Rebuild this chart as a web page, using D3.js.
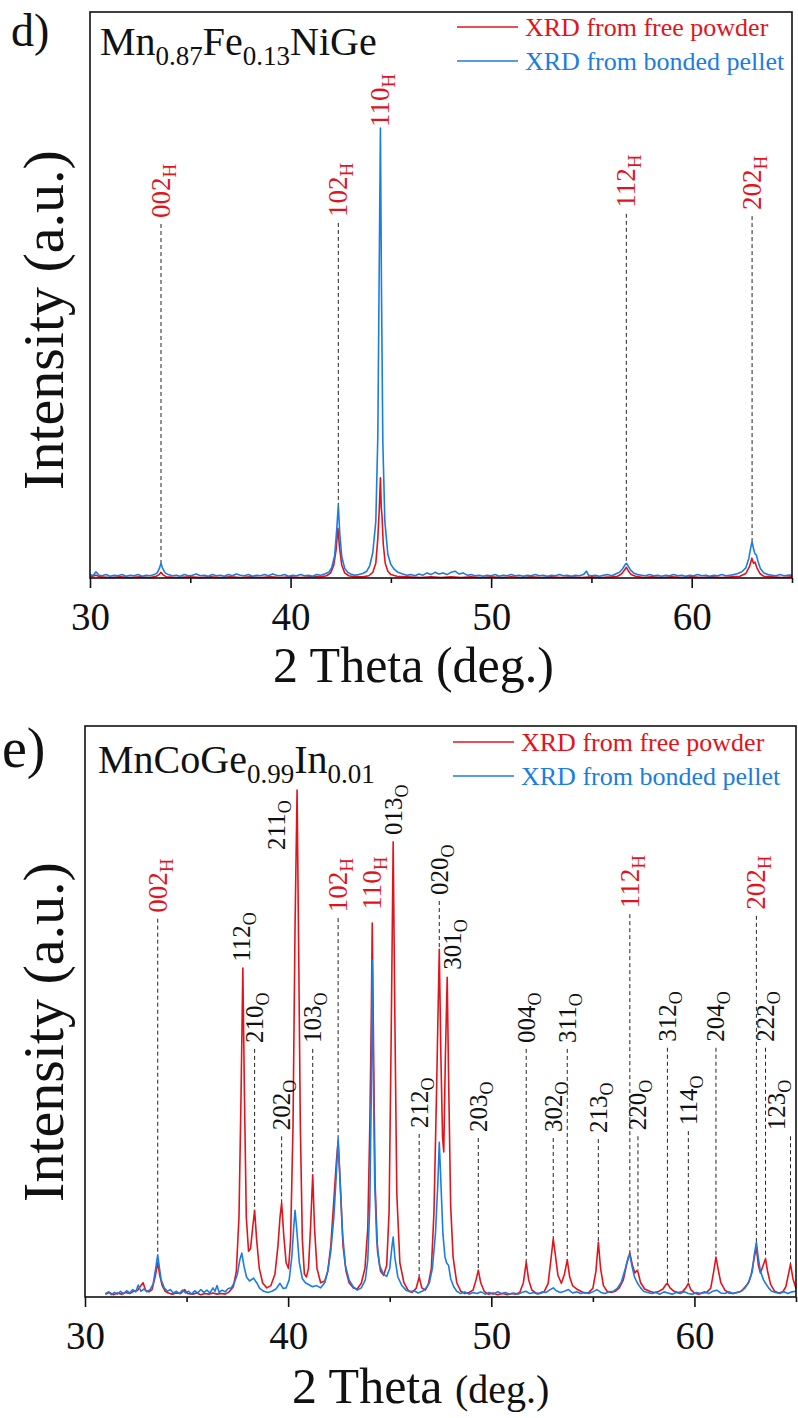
<!DOCTYPE html>
<html>
<head>
<meta charset="utf-8">
<script src="https://cdn.jsdelivr.net/npm/d3@7"></script>
<style>
  body { margin: 0; background: #fff; }
  svg text { font-family: "Liberation Serif", "Times New Roman", serif; }
</style>
</head>
<body>
<svg width="798" height="1418"></svg>
<script>
/* ---------- data (2theta in deg, intensity in % of axis height) ---------- */
const xMajor = [30, 40, 50, 60];
const xMinor = [35, 45, 55, 65];
const seriesNames = ['XRD from free powder', 'XRD from bonded pellet'];

// panel d) Mn0.87Fe0.13NiGe
const dFormula = [['Mn', 0], ['0.87', 1], ['Fe', 0], ['0.13', 1], ['NiGe', 0]];
const dPowder = [
  [30.0,0.2],[30.3,0.5],[30.5,0.2],[31,0.1],[31.5,0.2],[32,0.1],[32.5,0.2],[33.0,0.1],[33.3,0.3],[33.45,0.6],
  [33.54,1.0],[33.63,0.6],[33.8,0.2],[34.3,0.1],[35,0.2],[35.5,0.1],[36,0.2],[36.5,0.1],[37,0.2],[37.5,0.1],
  [38,0.2],[38.5,0.1],[39,0.2],[39.5,0.1],[40,0.2],[40.5,0.1],[41,0.2],[41.5,0.2],[41.8,0.4],[42.0,0.9],
  [42.15,2.2],[42.27,5.0],[42.36,8.8],[42.44,5.5],[42.55,2.3],[42.7,0.9],[42.9,0.4],[43.2,0.2],[43.6,0.2],
  [43.9,0.4],[44.1,1.0],[44.25,2.6],[44.35,7],[44.42,12],[44.48,17.7],[44.52,12.5],[44.56,11],[44.62,6],
  [44.72,2.6],[44.85,1.2],[45.0,0.6],[45.3,0.3],[45.8,0.2],[46.5,0.1],[47,0.2],[47.5,0.1],[48,0.2],[48.5,0.1],
  [49,0.2],[49.5,0.1],[50,0.2],[50.5,0.1],[51,0.2],[51.5,0.1],[52,0.2],[52.5,0.1],[53,0.2],[53.5,0.1],
  [54,0.2],[54.5,0.1],[55,0.2],[55.5,0.1],[56,0.2],[56.3,0.3],[56.5,0.7],[56.65,1.4],[56.74,1.9],[56.83,1.3],
  [56.98,0.6],[57.2,0.3],[57.6,0.1],[58,0.2],[58.5,0.1],[59,0.2],[59.5,0.1],[60,0.2],[60.5,0.1],[61,0.2],
  [61.5,0.1],[62,0.2],[62.4,0.3],[62.7,0.8],[62.88,2.0],[63.0,3.5],[63.08,2.6],[63.16,2.8],[63.25,1.8],
  [63.4,0.8],[63.6,0.3],[64,0.2],[64.5,0.1],[65,0.2]
];
const dPellet = [
  [30.0,0.6],[30.15,0.4],[30.3,1.1],[30.45,0.5],[30.6,0.4],[30.8,0.6],[31.0,0.3],[31.2,0.5],[31.4,0.4],[31.6,0.6],
  [31.8,0.3],[32.0,0.5],[32.2,0.4],[32.4,0.6],[32.6,0.3],[32.8,0.5],[33.0,0.4],[33.2,0.6],[33.35,0.9],[33.45,1.6],
  [33.54,2.6],[33.62,1.7],[33.75,0.9],[33.9,0.6],[34.1,0.4],[34.3,0.5],[34.5,0.3],[34.7,0.6],[34.9,0.4],[35.1,0.5],
  [35.3,0.7],[35.5,0.4],[35.7,0.5],[35.9,0.3],[36.1,0.6],[36.3,0.4],[36.5,0.5],[36.7,0.3],[36.9,0.6],[37.1,0.4],
  [37.3,0.7],[37.5,0.5],[37.7,0.4],[37.9,0.6],[38.1,0.3],[38.3,0.5],[38.5,0.4],[38.7,0.6],[38.9,0.4],[39.1,0.7],
  [39.3,0.5],[39.5,0.4],[39.7,0.6],[39.9,0.3],[40.1,0.5],[40.3,0.4],[40.5,0.6],[40.7,0.4],[40.9,0.5],[41.1,0.3],
  [41.3,0.6],[41.5,0.5],[41.7,0.7],[41.9,1.0],[42.05,1.8],[42.2,4.0],[42.3,8.5],[42.38,12.9],[42.45,8.0],
  [42.55,3.8],[42.7,1.7],[42.85,1.0],[43.0,0.7],[43.2,0.5],[43.4,0.6],[43.6,0.8],[43.8,1.2],[43.95,2.2],
  [44.1,4.5],[44.25,10],[44.35,25],[44.42,55],[44.48,79.5],[44.53,52],[44.6,24],[44.7,10],[44.85,4.2],
  [45.0,2.4],[45.15,1.6],[45.35,1.0],[45.6,0.7],[45.8,0.5],[46.0,0.6],[46.2,0.4],[46.4,0.7],[46.6,0.5],
  [46.8,0.9],[47.0,0.6],[47.2,1.0],[47.4,0.7],[47.6,0.9],[47.8,0.6],[48.0,1.0],[48.2,1.2],[48.4,0.7],[48.6,0.9],
  [48.8,0.5],[49.0,0.6],[49.2,0.4],[49.4,0.5],[49.6,0.3],[49.8,0.5],[50.0,0.4],[50.2,0.6],[50.4,0.3],[50.6,0.5],
  [50.8,0.4],[51.0,0.6],[51.2,0.4],[51.4,0.5],[51.6,0.3],[51.8,0.5],[52.0,0.4],[52.2,0.6],[52.4,0.4],[52.6,0.5],
  [52.8,0.3],[53.0,0.5],[53.2,0.4],[53.4,0.6],[53.6,0.4],[53.8,0.5],[54.0,0.3],[54.2,0.5],[54.4,0.4],[54.6,0.6],
  [54.75,1.2],[54.85,0.5],[55.0,0.4],[55.2,0.5],[55.4,0.3],[55.6,0.5],[55.8,0.6],[56.0,0.4],[56.2,0.7],[56.4,1.0],
  [56.55,1.6],[56.65,2.2],[56.74,2.6],[56.82,2.2],[56.95,1.4],[57.1,0.9],[57.3,0.6],[57.5,0.5],[57.7,0.4],
  [57.9,0.6],[58.1,0.4],[58.3,0.5],[58.5,0.3],[58.7,0.5],[58.9,0.4],[59.1,0.6],[59.3,0.4],[59.5,0.5],[59.7,0.3],
  [59.9,0.5],[60.1,0.4],[60.3,0.6],[60.5,0.4],[60.7,0.5],[60.9,0.3],[61.1,0.5],[61.3,0.4],[61.5,0.6],[61.7,0.4],
  [61.9,0.5],[62.1,0.6],[62.3,0.8],[62.5,1.1],[62.7,1.8],[62.85,3.5],[62.95,5.5],[63.01,6.4],[63.08,5.2],
  [63.15,4.3],[63.22,4.1],[63.3,3.0],[63.42,1.7],[63.6,0.9],[63.8,0.6],[64.0,0.5],[64.2,0.4],[64.4,0.6],
  [64.6,0.4],[64.8,0.5],[65.0,0.5]
];
const dPeaks = [
  { hkl: '002', ph: 'H', pos: 33.54, at: 63.6, line: true },
  { hkl: '102', ph: 'H', pos: 42.38, at: 63.8, line: true },
  { hkl: '110', ph: 'H', pos: 44.48, at: 79.7, line: false },
  { hkl: '112', ph: 'H', pos: 56.74, at: 65.4, line: true },
  { hkl: '202', ph: 'H', pos: 63.01, at: 65.0, line: true }
];

// panel e) MnCoGe0.99In0.01
const eFormula = [['MnCoGe', 0], ['0.99', 1], ['In', 0], ['0.01', 1]];
const ePowder = [
  [31.0,0.5],[31.2,0.8],[31.4,0.4],[31.6,0.7],[31.8,0.5],[32.0,0.8],[32.2,0.6],[32.4,1.0],[32.6,1.2],[32.75,2.0],
  [32.86,2.5],[32.98,1.2],[33.15,0.9],[33.3,1.3],[33.45,3.5],[33.58,6.0],[33.68,3.8],[33.8,2.0],[33.95,1.0],
  [34.1,0.7],[34.3,0.5],[34.5,0.7],[34.7,0.6],[34.9,1.3],[35.05,0.6],[35.3,0.5],[35.5,0.7],[35.7,0.4],[35.9,0.6],
  [36.1,0.5],[36.3,0.7],[36.5,0.5],[36.7,0.6],[36.9,0.5],[37.1,0.9],[37.3,1.8],[37.45,4.5],[37.58,14],[37.68,35],
  [37.77,57.6],[37.85,35],[37.94,14],[38.05,8],[38.15,8.5],[38.25,12],[38.35,15.2],[38.45,10],[38.58,5],
  [38.75,2.4],[38.95,1.6],[39.15,2.0],[39.35,4.0],[39.5,9],[39.6,14],[39.68,16.5],[39.78,11],[39.9,6],[40.02,5],
  [40.12,10],[40.24,30],[40.34,65],[40.44,88.8],[40.52,60],[40.6,30],[40.7,10],[40.8,4],[40.9,3.5],[41.0,5],
  [41.1,12],[41.21,21.4],[41.3,12],[41.42,5],[41.6,2.5],[41.8,2.8],[41.95,4.5],[42.1,9],[42.25,17],[42.38,24],
  [42.46,27.3],[42.56,20],[42.7,9],[42.85,4.5],[43.0,2.5],[43.2,1.6],[43.4,1.4],[43.6,2.4],[43.78,5],[43.92,12],
  [44.02,30],[44.09,48],[44.14,65.5],[44.2,45],[44.28,20],[44.4,8],[44.55,4.5],[44.7,3.8],[44.85,5.5],[44.97,15],
  [45.07,45],[45.17,79.7],[45.25,50],[45.35,18],[45.5,6],[45.7,2.5],[45.9,1.2],[46.1,0.8],[46.3,1.5],[46.45,3.5],
  [46.58,1.6],[46.75,1.2],[46.9,2.2],[47.05,5],[47.18,15],[47.3,35],[47.38,50],[47.44,60.9],[47.52,42],[47.6,28],
  [47.66,25.4],[47.74,42],[47.83,56.0],[47.9,38],[48.0,16],[48.12,7],[48.3,2.5],[48.5,1.0],[48.7,0.6],[48.9,0.8],
  [49.1,1.2],[49.25,3.0],[49.36,4.7],[49.48,2.5],[49.65,1.0],[49.85,0.5],[50.1,0.7],[50.3,0.4],[50.55,0.6],
  [50.8,0.4],[51.0,0.6],[51.2,0.5],[51.4,0.8],[51.58,2.5],[51.72,6.1],[51.84,3.0],[52.0,1.2],[52.2,0.7],[52.4,0.6],
  [52.6,0.9],[52.8,2.4],[52.95,7.0],[53.05,10.2],[53.15,7.5],[53.28,3.8],[53.45,2.4],[53.6,4.0],[53.74,6.5],
  [53.86,3.5],[54.0,2.0],[54.2,1.4],[54.4,1.0],[54.6,0.7],[54.8,0.8],[55.0,1.5],[55.15,4.5],[55.27,9.6],[55.38,5.0],
  [55.52,2.0],[55.7,1.0],[55.9,0.8],[56.1,1.0],[56.3,1.6],[56.5,3.0],[56.68,6.0],[56.82,7.7],[56.95,5.5],[57.07,4.2],
  [57.16,4.6],[57.22,4.4],[57.35,2.5],[57.55,1.4],[57.8,1.0],[58.0,0.8],[58.2,0.9],[58.45,1.4],[58.6,2.2],
  [58.67,2.4],[58.8,1.6],[59.0,1.0],[59.2,0.8],[59.4,0.9],[59.58,1.6],[59.7,2.4],[59.82,1.3],[60.0,0.7],[60.2,0.5],
  [60.4,0.7],[60.6,0.8],[60.8,1.5],[60.95,4.5],[61.06,7.0],[61.16,5.0],[61.3,2.5],[61.5,1.2],[61.7,0.7],[61.9,0.6],
  [62.1,0.8],[62.3,1.0],[62.5,1.8],[62.65,2.4],[62.8,4.0],[62.95,7.0],[63.05,8.6],[63.15,5.5],[63.25,4.2],
  [63.38,5.5],[63.5,6.7],[63.6,4.5],[63.75,2.2],[63.95,1.0],[64.15,0.7],[64.35,0.9],[64.5,1.8],[64.63,4.0],
  [64.73,5.8],[64.85,3.2],[65.0,1.5]
];
const ePellet = [
  [31.0,0.6],[31.15,0.9],[31.3,0.4],[31.45,0.8],[31.6,0.5],[31.75,1.0],[31.9,0.6],[32.05,1.1],[32.2,0.7],[32.35,1.3],
  [32.5,0.9],[32.62,2.1],[32.75,1.0],[32.9,1.4],[33.05,0.9],[33.2,1.3],[33.35,2.2],[33.48,5.0],[33.58,7.4],
  [33.66,5.2],[33.75,3.0],[33.9,1.6],[34.05,1.0],[34.2,1.3],[34.35,0.7],[34.5,1.0],[34.65,0.6],[34.8,1.2],
  [34.95,0.7],[35.1,1.0],[35.25,0.5],[35.4,1.1],[35.55,0.7],[35.7,1.3],[35.85,0.8],[36.0,1.2],[36.15,0.7],
  [36.3,1.6],[36.4,1.0],[36.5,2.0],[36.6,0.8],[36.75,1.2],[36.9,0.9],[37.05,1.5],[37.2,1.6],[37.35,2.5],[37.5,4.0],
  [37.62,6.5],[37.72,7.7],[37.82,5.5],[37.95,3.5],[38.1,2.8],[38.3,3.3],[38.45,2.5],[38.6,1.5],[38.8,1.0],
  [39.0,0.8],[39.2,1.0],[39.4,1.4],[39.6,2.4],[39.75,1.5],[39.9,1.6],[40.05,3.0],[40.18,7.0],[40.28,12.5],
  [40.34,15.2],[40.42,12.0],[40.55,6.0],[40.7,3.2],[40.85,2.5],[41.0,2.2],[41.2,1.8],[41.4,2.0],[41.6,1.6],
  [41.8,2.5],[41.95,4.5],[42.1,8.0],[42.25,14],[42.38,22],[42.46,27.7],[42.55,21],[42.68,11],[42.82,5.5],
  [43.0,3.0],[43.2,1.8],[43.4,1.2],[43.6,1.6],[43.8,3.0],[43.92,6.5],[44.02,16],[44.09,35],[44.14,59],[44.19,40],
  [44.26,20],[44.36,10],[44.5,5.5],[44.7,4.0],[44.85,3.6],[45.0,5.0],[45.1,8.5],[45.17,10.5],[45.25,7.0],
  [45.4,3.5],[45.6,2.0],[45.8,1.2],[46.0,0.9],[46.2,1.1],[46.4,0.7],[46.6,1.0],[46.8,1.6],[46.95,2.5],[47.1,5],
  [47.25,11],[47.37,20],[47.44,27.1],[47.52,20],[47.62,11],[47.72,7],[47.8,6.0],[47.9,5.5],[48.0,3.2],[48.15,1.8],
  [48.3,1.0],[48.5,0.6],[48.7,0.9],[48.9,0.5],[49.1,0.8],[49.3,0.6],[49.5,0.9],[49.7,0.5],[49.9,0.8],[50.1,0.5],
  [50.3,0.9],[50.5,0.6],[50.7,0.8],[50.9,0.5],[51.1,0.7],[51.3,0.5],[51.5,0.8],[51.7,1.0],[51.9,0.6],[52.1,0.8],
  [52.3,0.5],[52.5,0.9],[52.7,0.8],[52.9,1.3],[53.05,1.6],[53.2,1.1],[53.4,0.8],[53.6,1.0],[53.8,1.3],[54.0,0.7],
  [54.2,0.9],[54.4,0.6],[54.6,0.8],[54.8,0.6],[55.0,0.9],[55.2,1.3],[55.4,0.8],[55.6,0.6],[55.8,0.9],[56.0,1.0],
  [56.2,1.5],[56.4,2.6],[56.6,5.0],[56.75,7.0],[56.82,7.4],[56.92,5.5],[57.05,3.5],[57.2,2.4],[57.35,1.6],
  [57.5,1.0],[57.7,0.8],[57.9,0.6],[58.1,0.8],[58.3,0.5],[58.5,0.9],[58.7,0.7],[58.9,0.5],[59.1,0.8],[59.3,0.6],
  [59.5,0.9],[59.7,0.6],[59.9,0.5],[60.1,0.8],[60.3,0.6],[60.5,0.9],[60.7,0.6],[60.9,1.0],[61.1,1.2],[61.3,0.7],
  [61.5,0.6],[61.7,0.9],[61.9,0.6],[62.1,0.8],[62.3,1.0],[62.5,1.6],[62.7,2.8],[62.85,4.5],[62.95,7.5],[63.05,9.6],
  [63.14,7.0],[63.25,4.5],[63.4,3.0],[63.5,2.4],[63.65,1.6],[63.8,1.0],[64.0,0.8],[64.2,0.6],[64.4,0.9],[64.6,0.6],
  [64.8,0.9],[65.0,1.0]
];
const ePeaks = [
  { hkl: '002', ph: 'H', pos: 33.58, at: 67.3, line: true },
  { hkl: '112', ph: 'O', pos: 37.73, at: 58.7, line: false },
  { hkl: '210', ph: 'O', pos: 38.35, at: 44.5, line: true },
  { hkl: '202', ph: 'O', pos: 39.68, at: 29.2, line: true },
  { hkl: '211', ph: 'O', pos: 39.43, at: 78.3, line: false },
  { hkl: '103', ph: 'O', pos: 41.21, at: 44.5, line: true },
  { hkl: '102', ph: 'H', pos: 42.46, at: 67.4, line: true },
  { hkl: '110', ph: 'H', pos: 44.14, at: 67.8, line: false },
  { hkl: '013', ph: 'O', pos: 45.2, at: 80.9, line: false },
  { hkl: '212', ph: 'O', pos: 46.45, at: 29.6, line: true },
  { hkl: '020', ph: 'O', pos: 47.44, at: 70.4, line: true },
  { hkl: '301', ph: 'O', pos: 48.08, at: 57.3, line: false },
  { hkl: '203', ph: 'O', pos: 49.36, at: 28.9, line: true },
  { hkl: '004', ph: 'O', pos: 51.72, at: 44.5, line: true },
  { hkl: '302', ph: 'O', pos: 53.05, at: 28.9, line: true },
  { hkl: '311', ph: 'O', pos: 53.74, at: 44.5, line: true },
  { hkl: '213', ph: 'O', pos: 55.27, at: 28.7, line: true },
  { hkl: '112', ph: 'H', pos: 56.82, at: 68.1, line: true },
  { hkl: '220', ph: 'O', pos: 57.22, at: 29.2, line: true },
  { hkl: '312', ph: 'O', pos: 58.67, at: 44.7, line: true },
  { hkl: '114', ph: 'O', pos: 59.70, at: 30.1, line: true },
  { hkl: '204', ph: 'O', pos: 61.06, at: 44.7, line: true },
  { hkl: '202', ph: 'H', pos: 63.05, at: 67.8, line: true },
  { hkl: '222', ph: 'O', pos: 63.50, at: 44.7, line: true },
  { hkl: '123', ph: 'O', pos: 64.73, at: 29.2, line: true, textPos: 64.05 }
];

/* ---------- drawing ---------- */
const RED = '#e2141b', BLUE = '#1b7de2', INK = '#111';
const SERIF = '"Liberation Serif", "Times New Roman", serif';
const svg = d3.select('svg');

function drawPanel(o) {
  const x = d3.scaleLinear().domain([30, 65]).range([o.left, o.right]);
  const y = d3.scaleLinear().domain([0, 100]).range([o.bottom, o.top]);
  const g = svg.append('g').style('font-family', SERIF);

  // top of the tallest curve around a reflection, so guide lines stop on the peak
  const both = o.powder.concat(o.pellet);
  const peakTop = t => d3.max(both.filter(p => Math.abs(p[0] - t) <= 0.1), p => p[1]) || 0;

  g.selectAll('line.guide')
    .data(o.peaks.filter(d => d.line))
    .join('line')
    .attr('x1', d => x(d.pos)).attr('x2', d => x(d.pos))
    .attr('y1', d => y(d.at) + 6).attr('y2', d => y(peakTop(d.pos)))
    .attr('stroke', '#222').attr('stroke-width', 1).attr('stroke-dasharray', '4,3');

  const line = d3.line().x(d => x(d[0])).y(d => y(d[1]));
  g.append('path').datum(o.powder).attr('d', line)
    .attr('fill', 'none').attr('stroke', RED).attr('stroke-width', 1.6).attr('stroke-linejoin', 'round');
  g.append('path').datum(o.pellet).attr('d', line)
    .attr('fill', 'none').attr('stroke', BLUE).attr('stroke-width', 1.6).attr('stroke-linejoin', 'round');

  // rotated hkl labels
  const lab = g.selectAll('text.peak')
    .data(o.peaks)
    .join('text')
    .attr('transform', d => `translate(${x(d.textPos || d.pos)},${y(d.at)}) rotate(-90)`)
    .attr('fill', d => d.ph === 'H' ? RED : INK)
    .style('font-family', SERIF)
    .style('font-size', d => d.ph === 'H' ? '27px' : '25px');
  lab.append('tspan').attr('x', 0).attr('y', d => d.ph === 'H' ? 9 : 8.4).text(d => d.hkl);
  lab.append('tspan').attr('dy', 6).style('font-size', d => d.ph === 'H' ? '19px' : '18px').text(d => d.ph);

  // frame
  g.append('rect')
    .attr('x', o.left).attr('y', o.top)
    .attr('width', o.right - o.left).attr('height', o.bottom - o.top)
    .attr('fill', 'none').attr('stroke', INK).attr('stroke-width', 1.6);

  // x axis, major + minor ticks
  const axMajor = g.append('g').attr('transform', `translate(0,${o.bottom})`)
    .call(d3.axisBottom(x).tickValues(xMajor).tickSize(10).tickPadding(14).tickFormat(d3.format('d')));
  const axMinor = g.append('g').attr('transform', `translate(0,${o.bottom})`)
    .call(d3.axisBottom(x).tickValues(xMinor).tickSize(5).tickFormat(''));
  [axMajor, axMinor].forEach(a => {
    a.attr('font-family', null).attr('font-size', null);
    a.select('.domain').remove();
    a.selectAll('line').attr('stroke', INK).attr('stroke-width', 1.6);
  });
  axMajor.selectAll('text').attr('fill', INK)
    .style('font-family', SERIF).style('font-size', '39px');

  // axis titles
  const xt = g.append('text').attr('x', o.xTitleX).attr('y', o.xTitleY).attr('fill', INK)
    .style('font-family', SERIF).style('font-size', '50px');
  xt.append('tspan').text('2 Theta ');
  xt.append('tspan').style('font-size', o.degSize + 'px').text('(deg.)');

  g.append('text')
    .attr('transform', `translate(63,${o.yTitleY}) rotate(-90)`)
    .attr('text-anchor', 'middle').attr('fill', INK)
    .style('font-family', SERIF).style('font-size', '58px')
    .text('Intensity (a.u.)');

  // panel letter and compound formula
  g.append('text').attr('x', o.letterX).attr('y', o.letterY).attr('fill', INK)
    .style('font-family', SERIF).style('font-size', o.letterSize + 'px').text(o.letter);

  const f = g.append('text').attr('x', o.formulaX).attr('y', o.formulaY).attr('fill', INK)
    .style('font-family', SERIF).style('font-size', '40px');
  let shifted = false;
  o.formula.forEach(([s, sub]) => {
    const dy = sub && !shifted ? 10 : (!sub && shifted ? -10 : 0);
    shifted = !!sub;
    f.append('tspan').attr('dy', dy).style('font-size', sub ? '27px' : '40px').text(s);
  });

  // legend
  const leg = g.append('g');
  [RED, BLUE].forEach((c, i) => {
    const ly = o.legendY + i * 34;
    leg.append('line').attr('x1', o.legendX).attr('x2', o.legendX + 61)
      .attr('y1', ly).attr('y2', ly).attr('stroke', c).attr('stroke-width', 1.6);
    leg.append('text').attr('x', o.legendX + 68).attr('y', ly + 9).attr('fill', c)
      .style('font-family', SERIF).style('font-size', '26px').text(seriesNames[i]);
  });
}

drawPanel({
  left: 90, right: 792, top: 12, bottom: 578,
  powder: dPowder, pellet: dPellet, peaks: dPeaks, formula: dFormula,
  letter: 'd)', letterX: 11, letterY: 46, letterSize: 46,
  formulaX: 100, formulaY: 55,
  legendX: 457, legendY: 27,
  xTitleX: 273, xTitleY: 682, degSize: 50,
  yTitleY: 320
});

drawPanel({
  left: 85, right: 796, top: 726, bottom: 1297,
  powder: ePowder, pellet: ePellet, peaks: ePeaks, formula: eFormula,
  letter: 'e)', letterX: 2, letterY: 767, letterSize: 56,
  formulaX: 98, formulaY: 773,
  legendX: 453, legendY: 742,
  xTitleX: 292, xTitleY: 1403, degSize: 40,
  yTitleY: 1032
});
</script>
</body>
</html>
